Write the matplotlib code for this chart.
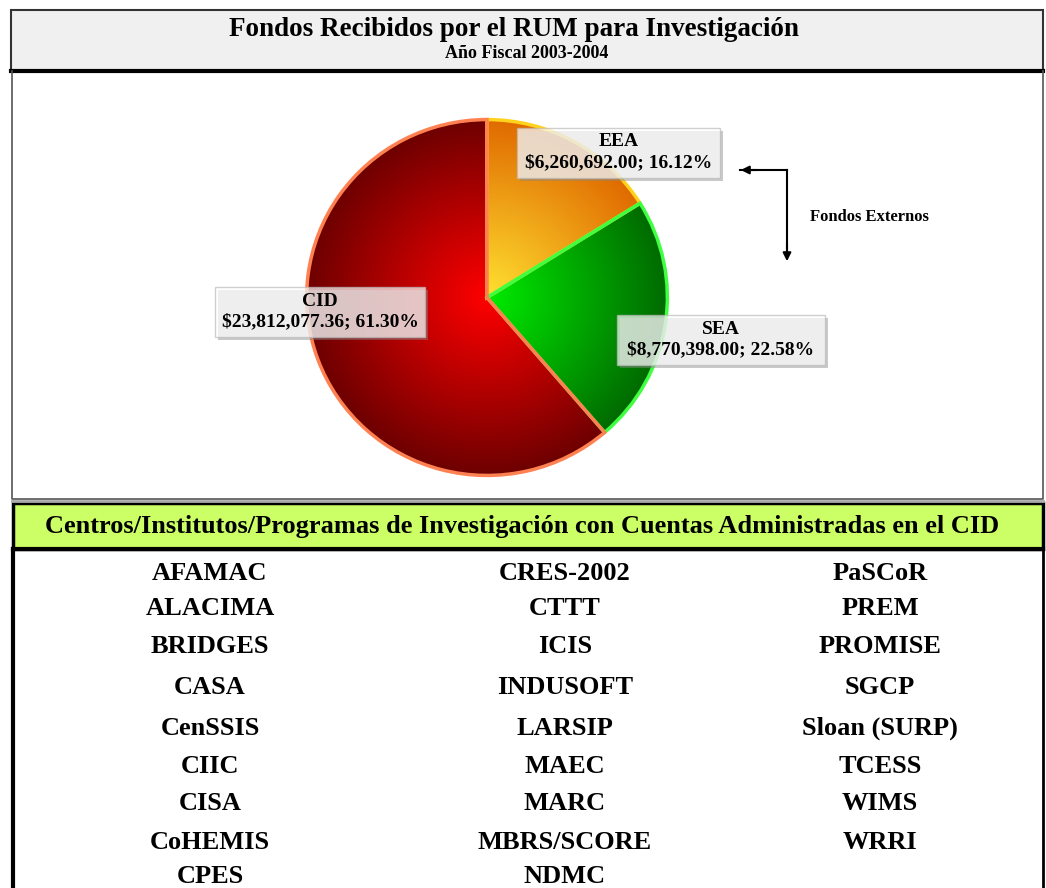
import numpy as np
import matplotlib.pyplot as plt
from matplotlib.patches import Rectangle
from matplotlib.colors import LinearSegmentedColormap

# data
names = ['EEA', 'SEA', 'CID']
amounts = [6260692.00, 8770398.00, 23812077.36]
inner_cols = ['#ffe030', '#00ec00', '#ff0000']
outer_cols = ['#e06a00', '#006a00', '#6e0000']
edge_cols = ['#ffd21e', '#40ff40', '#ff8050']

col1 = ['AFAMAC', 'ALACIMA', 'BRIDGES', 'CASA', 'CenSSIS', 'CIIC', 'CISA', 'CoHEMIS', 'CPES']
col2 = ['CRES-2002', 'CTTT', 'ICIS', 'INDUSOFT', 'LARSIP', 'MAEC', 'MARC', 'MBRS/SCORE', 'NDMC']
col3 = ['PaSCoR', 'PREM', 'PROMISE', 'SGCP', 'Sloan (SURP)', 'TCESS', 'WIMS', 'WRRI']

title = 'Fondos Recibidos por el RUM para Investigación'
subtitle = 'Año Fiscal 2003-2004'
header = 'Centros/Institutos/Programas de Investigación con Cuentas Administradas en el CID'

W, H = 1046, 888
plt.rcParams['font.family'] = ['Liberation Serif', 'DejaVu Serif']
fig = plt.figure(figsize=(W / 100, H / 100), dpi=100)
fig.patch.set_facecolor('white')

# pie axes (pixel box)
cx, cy, rx, ry = 487, 297.5, 184, 181.5
pax = fig.add_axes([(cx - rx) / W, (H - cy - ry) / H, 2 * rx / W, 2 * ry / H])
pax.set_zorder(1)
wedges, _ = pax.pie(amounts, startangle=90, counterclock=False, radius=1.0)
pax.set_aspect('auto')
pax.set_xlim(-1.02, 1.02)
pax.set_ylim(-1.02, 1.02)
pax.axis('off')

xx, yy = np.meshgrid(np.linspace(-1, 1, 400), np.linspace(-1, 1, 400))
rr = np.sqrt(xx ** 2 + yy ** 2)
for w, c0, c1, ec in zip(wedges, inner_cols, outer_cols, edge_cols):
    cm = LinearSegmentedColormap.from_list('g', [c0, c1])
    im = pax.imshow(rr, cmap=cm, vmin=0, vmax=1, extent=[-1, 1, -1, 1],
                    origin='lower', zorder=1, aspect='auto')
    im.set_clip_path(w)
    w.set_facecolor('none')
    w.set_edgecolor(ec)
    w.set_linewidth(2.5)
    w.set_zorder(2)

# overlay axes in pixel coords
ax = fig.add_axes([0, 0, 1, 1])
ax.set_zorder(2)
ax.patch.set_alpha(0)
ax.set_xlim(0, W)
ax.set_ylim(H, 0)
ax.axis('off')

# title box
ax.add_patch(Rectangle((11, 10), 1032, 61, facecolor='#f0f0f0', edgecolor='#333333', lw=1.5))
ax.plot([11, 1043], [71, 71], color='black', lw=3)
ax.text(514, 30, title, ha='center', va='center', fontsize=19.5, fontweight='bold')
ax.text(527, 54, subtitle, ha='center', va='center', fontsize=13, fontweight='bold')

# pie frame
ax.plot([12, 12, 1043, 1043], [71, 499, 499, 71], color='#555555', lw=1.2)
ax.plot([12, 1043], [501, 501], color='#aaaaaa', lw=2)

# green header
ax.add_patch(Rectangle((13, 503), 1030, 46, facecolor='#ccff66', edgecolor='black', lw=2.5))
ax.plot([13, 1043], [549, 549], color='black', lw=3)
ax.text(522, 526, header, ha='center', va='center', fontsize=19, fontweight='bold')
ax.plot([13, 13], [549, H], color='black', lw=3)
ax.plot([1043, 1043], [549, H], color='black', lw=2)

# slice labels
boxes = {'EEA': (517, 128, 203, 50), 'SEA': (617, 315, 208, 50), 'CID': (215, 287, 210, 50)}
total = sum(amounts)
for n, v in zip(names, amounts):
    bx, by, bw, bh = boxes[n]
    ax.add_patch(Rectangle((bx + 3, by + 3), bw, bh, facecolor='#888888', alpha=0.45, lw=0))
    ax.add_patch(Rectangle((bx, by), bw, bh, facecolor='white', alpha=0.7,
                           edgecolor='#bbbbbb', lw=1))
    ax.text(bx + bw / 2, by + 14, n, ha='center', va='center', fontsize=14, fontweight='bold')
    ax.text(bx + bw / 2, by + 35, '${:,.2f}; {:.2f}%'.format(v, 100 * v / total),
            ha='center', va='center', fontsize=14, fontweight='bold')

# Fondos Externos arrows
ax.plot([740, 787], [170, 170], color='black', lw=1.5)
ax.annotate('', xy=(738, 170), xytext=(760, 170),
            arrowprops=dict(arrowstyle='-|>', color='black', lw=1.5, mutation_scale=12))
ax.plot([787, 787], [170, 250], color='black', lw=1.5)
ax.annotate('', xy=(787, 264), xytext=(787, 240),
            arrowprops=dict(arrowstyle='-|>', color='black', lw=1.5, mutation_scale=12))
ax.text(810, 217, 'Fondos Externos', ha='left', va='center', fontsize=12, fontweight='bold')

# table of centres
row_y = [573, 608, 646, 687, 728, 766, 803, 842, 876]
for x, col in zip([210, 565, 880], [col1, col2, col3]):
    for y, s in zip(row_y, col):
        ax.text(x, y, s, ha='center', va='center', fontsize=19, fontweight='bold')

fig.savefig('out.png', dpi=100)
